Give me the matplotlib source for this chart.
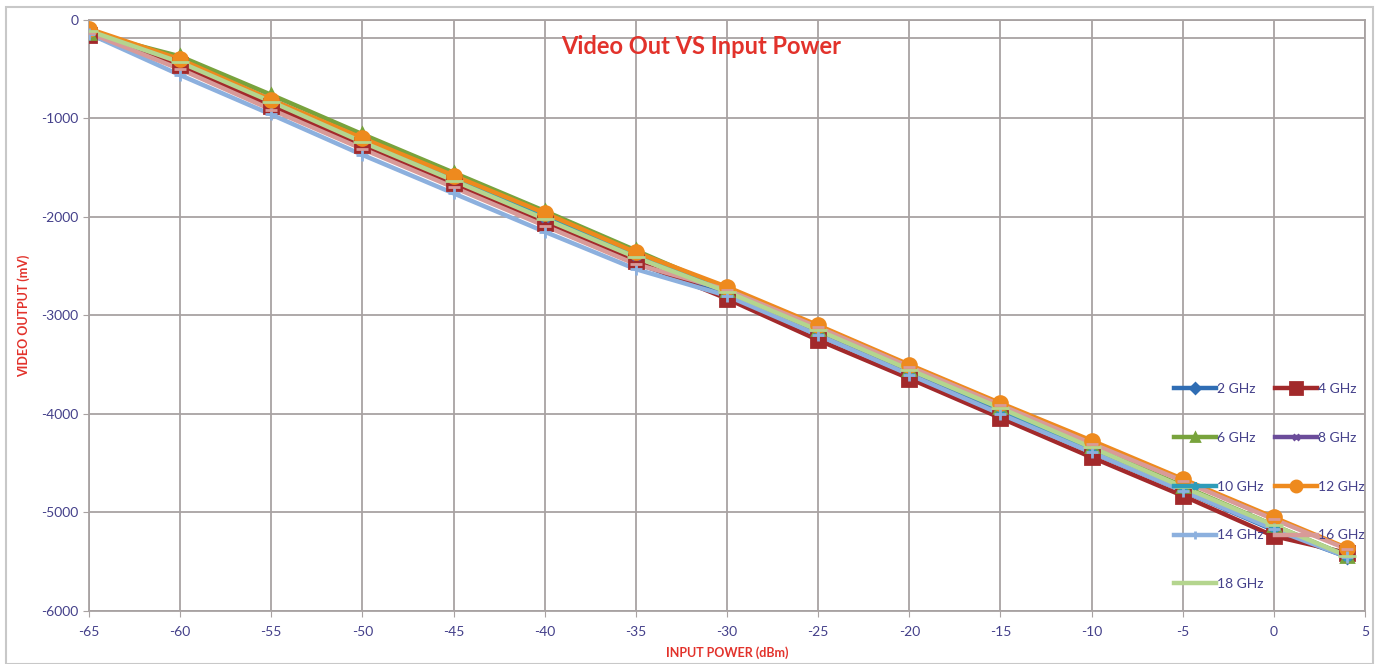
import numpy as np
import matplotlib.pyplot as plt
from matplotlib.lines import Line2D
from matplotlib.patches import Rectangle

#========data========
power_dbm = [-65, -60, -55, -50, -45, -40, -35, -30, -25, -20, -15, -10, -5, 0, 4]

ghz2 = [-110, -470, -880, -1290, -1680, -2080, -2470, -2790, -3200, -3590, -3990, -4390, -4780, -5180, -5450]
ghz4 = [-150, -460, -870, -1270, -1660, -2060, -2450, -2830, -3250, -3640, -4040, -4440, -4830, -5240, -5410]
ghz6 = [-130, -370, -760, -1160, -1550, -1940, -2340, -2740, -3140, -3540, -3930, -4330, -4730, -5130, -5440]
ghz8 = [-120, -420, -820, -1220, -1610, -2010, -2400, -2760, -3160, -3560, -3960, -4360, -4750, -5150, -5440]
ghz10 = [-120, -410, -810, -1210, -1600, -2000, -2390, -2750, -3150, -3550, -3950, -4350, -4750, -5150, -5440]
ghz12 = [-90, -400, -810, -1200, -1580, -1960, -2360, -2710, -3100, -3500, -3890, -4270, -4660, -5050, -5360]
ghz14 = [-140, -560, -960, -1370, -1760, -2150, -2530, -2800, -3200, -3600, -4000, -4390, -4780, -5170, -5450]
ghz16 = [-130, -500, -910, -1310, -1700, -2090, -2480, -2740, -3120, -3520, -3910, -4300, -4680, -5070, -5370]
ghz18 = [-110, -430, -830, -1240, -1630, -2020, -2410, -2760, -3150, -3550, -3940, -4340, -4740, -5130, -5440]

labels = ["2 GHz", "4 GHz", "6 GHz", "8 GHz", "10 GHz", "12 GHz", "14 GHz", "16 GHz", "18 GHz"]
series = [ghz2, ghz4, ghz6, ghz8, ghz10, ghz12, ghz14, ghz16, ghz18]

#========styles========
plt.rcParams['font.family'] = ['Lato', 'DejaVu Sans']
plt.rcParams['axes.unicode_minus'] = False

colors = ["#2F6DB4", "#A2292B", "#78A33C", "#6B4C9A", "#2E9CB9", "#EE8A1E", "#8CB0DE", "#D89A98", "#B4D58E"]
markers = ["D", "s", "^", "x", "*", "o", "+", "_", "_"]
msizes = [6, 10, 8, 6, 7, 10, 8, 9, 13]

text_col = "#44408A"
red = "#E2322B"
grid_col = "#A8A2A2"

fig = plt.figure(figsize=(13.79, 6.64), dpi=100)
ax = fig.add_axes([0.0645, 0.0798, 0.9254, 0.8902])

#lines first, then markers on top
for ys, c in zip(series, colors):
    ax.plot(power_dbm, ys, color=c, lw=3.2, solid_capstyle="round", zorder=3)
for ys, c, m, ms in zip(series, colors, markers, msizes):
    ax.plot(power_dbm, ys, linestyle="none", marker=m, color=c, markersize=ms,
            markeredgecolor=c, markeredgewidth=2, zorder=4)

#axes
ax.set_xlim(-65, 5)
ax.set_ylim(-6000, 0)
ax.set_xticks(np.arange(-65, 6, 5))
ax.set_yticks(np.arange(-6000, 1, 1000))
ax.grid(True, color=grid_col, lw=1.3)
ax.axhline(-185, color=grid_col, lw=1.3, zorder=1)
ax.set_axisbelow(True)
for s in ax.spines.values():
    s.set_color(grid_col)
    s.set_linewidth(1.3)
ax.tick_params(axis="both", colors=grid_col, labelcolor=text_col, labelsize=10, length=4)
ax.tick_params(axis="x", pad=7)

ax.set_xlabel("INPUT POWER (dBm)", color=red, fontsize=9, fontweight="bold", labelpad=6)
ax.set_ylabel("VIDEO OUTPUT (mV)", color=red, fontsize=9, fontweight="bold", labelpad=8)
ax.text(0.48, 0.955, "Video Out VS Input Power", transform=ax.transAxes, ha="center", va="center",
        color=red, fontsize=17, fontweight="bold")

#legend, row-wise order in 2 columns
handles = [Line2D([], [], color=c, lw=3.2, marker=m, markersize=ms * 0.8,
                  markeredgecolor=c, markeredgewidth=2)
           for c, m, ms in zip(colors, markers, msizes)]
order = [0, 2, 4, 6, 8, 1, 3, 5, 7]
leg = ax.legend([handles[i] for i in order], [labels[i] for i in order], ncol=2,
                loc="lower right", bbox_to_anchor=(1.0094, 0.014), frameon=False,
                labelspacing=2.65, columnspacing=0.8, handlelength=3.0, handletextpad=0.1,
                fontsize=10, labelcolor=text_col)
leg.set_zorder(5)

#outer frame
fig.patches.append(Rectangle((0.004, 0.0), 0.992, 0.99, transform=fig.transFigure,
                             fill=False, edgecolor="#C8C8C8", lw=1.5))

fig.savefig("out.png", dpi=100)
